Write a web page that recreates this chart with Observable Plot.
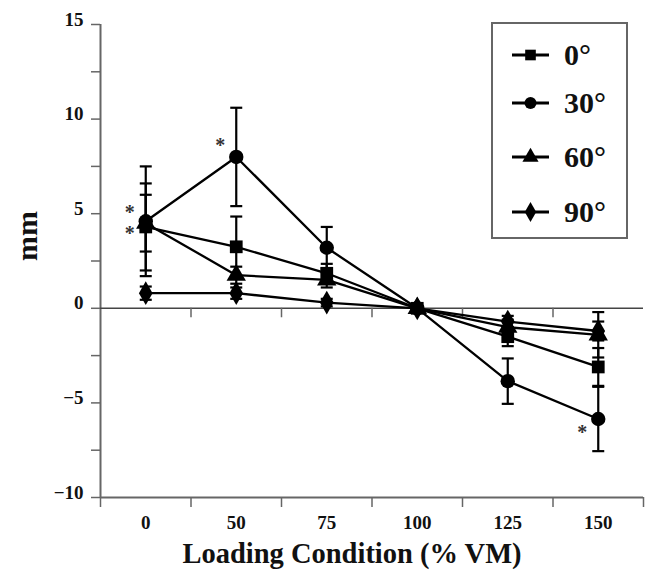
<!DOCTYPE html>
<html>
<head>
<meta charset="utf-8">
<script src="https://cdn.jsdelivr.net/npm/d3@7"></script>
<script src="https://cdn.jsdelivr.net/npm/@observablehq/plot@0.6"></script>
<style>
  body { margin: 0; background: white; }
  #wrap { position: relative; width: 653px; height: 575px; font-family: "Liberation Serif", serif; }
  #legend { position: absolute; left: 491px; top: 22px; width: 137px; height: 217px; box-sizing: border-box; border: 2px solid #666; background: white; }
  .item { position: absolute; left: 19px; height: 30px; display: flex; align-items: center; }
  .item span { font-size: 30px; font-weight: bold; color: #111; margin-left: 14px; line-height: 30px; }
</style>
</head>
<body>
<div id="wrap"></div>
<script>
// categories (loading condition, % VM)
const loading = ["0", "50", "75", "100", "125", "150"];
// series (angle)
const angles = ["0°", "30°", "60°", "90°"];
const symbols = ["square", "circle", "triangle", "diamond"];
// means (mm)
const mean0  = [4.3, 3.25, 1.85, 0, -1.5, -3.1];
const mean30 = [4.6, 8.0, 3.2, 0, -3.85, -5.85];
const mean60 = [4.5, 1.75, 1.5, 0, -1.0, -1.4];
const mean90 = [0.8, 0.8, 0.3, 0, -0.7, -1.2];
// error (mm)
const err0  = [2.3, 1.6, 0.5, 0.1, 0.5, 1.0];
const err30 = [2.9, 2.6, 1.1, 0.1, 1.2, 1.7];
const err60 = [1.5, 0.45, 0.4, 0.1, 0.4, 1.2];
const err90 = [0.35, 0.3, 0.2, 0.1, 0.3, 0.5];
// y ticks
const yTicks = [-10, -7.5, -5, -2.5, 0, 2.5, 5, 7.5, 10, 12.5, 15];
const yLabels = [-10, -5, 0, 5, 10, 15];
// significance markers
const starX = ["0", "0", "50", "150"];
const starY = [5.3, 4.2, 8.85, -6.3];

const means = [mean0, mean30, mean60, mean90];
const errs = [err0, err30, err60, err90];
const rows = [];
angles.forEach((a, s) => loading.forEach((c, i) => rows.push({angle: a, i, c, mean: means[s][i], err: errs[s][i]})));
const caps = rows.flatMap(d => [{i: d.i, v: d.mean - d.err}, {i: d.i, v: d.mean + d.err}]);
const stars = starX.map((c, k) => ({i: loading.indexOf(c), v: starY[k]}));

const capSymbol = {draw(ctx) { ctx.moveTo(-6, 0); ctx.lineTo(6, 0); }};
const fmt = d => d < 0 ? "\u2212" + (-d) : String(d);
const F = "Liberation Serif";

const chart = Plot.plot({
  width: 653, height: 575,
  marginLeft: 100, marginRight: 10, marginTop: 24, marginBottom: 78,
  x: {domain: [-0.5, loading.length - 0.5]},
  y: {domain: [-10, 15]},
  symbol: {domain: angles, range: symbols},
  style: {fontFamily: F, background: "white", color: "#111"},
  marks: [
    Plot.ruleX([-0.5], {stroke: "#666", strokeWidth: 2}),
    Plot.ruleY([-10], {stroke: "#666", strokeWidth: 2}),
    Plot.ruleY([0], {stroke: "#444", strokeWidth: 1.6}),
    Plot.ruleX(d3.range(0.5, loading.length - 1, 1), {y1: 0, y2: -0.5, stroke: "#666", strokeWidth: 1.5}),
    Plot.axisY({ticks: yTicks, tickSize: 9, tickFormat: () => "", stroke: "#666", strokeWidth: 1.5, label: null}),
    Plot.axisY({ticks: yLabels, tickSize: 0, tickPadding: 17, dy: -5, tickFormat: fmt, fontSize: 19, fontWeight: "bold", label: null}),
    Plot.axisX({ticks: d3.range(-0.5, loading.length, 1), tickSize: 10, tickFormat: () => "", stroke: "#666", strokeWidth: 1.5, label: null}),
    Plot.axisX({ticks: d3.range(loading.length), tickSize: 0, tickPadding: 18, tickFormat: i => loading[i], fontSize: 19, fontWeight: "bold", label: null}),
    Plot.ruleX(rows, {x: "i", y1: d => d.mean - d.err, y2: d => d.mean + d.err, stroke: "black", strokeWidth: 2.2}),
    Plot.dot(caps, {x: "i", y: "v", symbol: capSymbol, fill: "none", stroke: "black", strokeWidth: 2.2}),
    Plot.line(rows, {x: "i", y: "mean", z: "angle", stroke: "black", strokeWidth: 2.3}),
    Plot.dot(rows, {x: "i", y: "mean", symbol: "angle", fill: "black", r: 7.2}),
    Plot.text(stars, {x: "i", y: "v", text: () => "*", dx: -16, dy: 5, fontSize: 20, fontWeight: "bold", fill: "#333"}),
    Plot.text(["mm"], {frameAnchor: "left", text: d => d, rotate: -90, dx: -73, fontSize: 30, fontWeight: "bold"}),
    Plot.text(["Loading Condition (% VM)"], {frameAnchor: "bottom", text: d => d, dx: -20, dy: 65, fontSize: 28.5, fontWeight: "bold"})
  ]
});
const wrap = document.getElementById("wrap");
wrap.appendChild(chart);

// legend
const legend = document.createElement("div");
legend.id = "legend";
const legendY = [31, 79, 133, 188];
angles.forEach((a, k) => {
  const item = document.createElement("div");
  item.className = "item";
  item.style.top = (legendY[k] - 15) + "px";
  const sym = d3.symbol(d3["symbol" + symbols[k][0].toUpperCase() + symbols[k].slice(1)], Math.PI * 6 * 6)();
  item.innerHTML = `<svg width="38" height="30"><line x1="0" x2="37" y1="15" y2="15" stroke="black" stroke-width="3"/><path d="${sym}" transform="translate(18.5,15)" fill="black"/></svg><span>${a}</span>`;
  legend.appendChild(item);
});
wrap.appendChild(legend);
</script>
</body>
</html>
